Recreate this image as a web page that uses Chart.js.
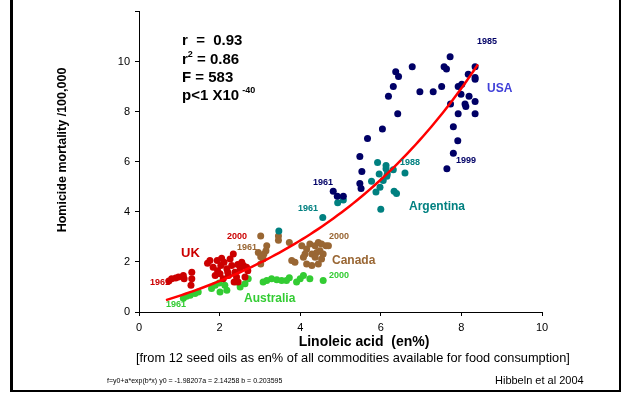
<!DOCTYPE html>
<html>
<head>
<meta charset="utf-8">
<script src="https://cdn.jsdelivr.net/npm/chart.js@4/dist/chart.umd.min.js"></script>
<style>
  html, body { margin: 0; padding: 0; background: #fff; }
  canvas { display: block; }
</style>
</head>
<body>
<canvas id="chart" width="624" height="393"></canvas>
<script>
// Tick values
const xTickValues = [0, 2, 4, 6, 8, 10];
const yTickValues = [0, 2, 4, 6, 8, 10, 12];

// Linoleic acid (en%) and homicide mortality per 100,000, by country-year
const usaLinoleic = [7.72, 6.78, 7.57, 7.63, 8.34, 6.37, 6.44, 8.17, 8.34, 8.34, 6.31, 7.51, 7.92, 8.01, 6.97, 7.30, 6.19, 7.99, 8.19, 7.73, 8.09, 8.11, 8.34, 6.42, 7.92, 8.34, 6.04, 7.80, 5.67, 7.91, 5.48, 7.80, 5.53, 5.48, 5.51, 4.82, 4.92, 5.07, 7.64];
const usaHomicide = [10.20, 9.80, 9.80, 9.71, 9.80, 9.60, 9.41, 9.50, 9.37, 9.30, 9.01, 9.01, 9.01, 9.10, 8.80, 8.80, 8.62, 8.70, 8.62, 8.31, 8.31, 8.21, 8.41, 7.92, 7.92, 7.92, 7.31, 7.40, 6.93, 6.84, 6.21, 6.34, 5.61, 5.13, 4.93, 4.82, 4.62, 4.62, 5.72];

const argentinaLinoleic = [5.92, 6.13, 6.13, 5.96, 6.16, 6.31, 6.60, 5.77, 6.06, 6.15, 5.98, 5.88, 6.33, 6.39, 4.93, 5.07, 6.00, 4.56, 3.47];
const argentinaHomicide = [5.97, 5.85, 5.72, 5.51, 5.51, 5.68, 5.55, 5.22, 5.25, 5.42, 4.98, 4.79, 4.82, 4.73, 4.36, 4.47, 4.10, 3.77, 3.24];

const ukLinoleic = [0.74, 0.81, 0.91, 0.98, 1.10, 1.12, 1.31, 1.31, 1.29, 1.76, 1.84, 1.94, 2.03, 2.11, 2.18, 2.26, 2.34, 2.30, 2.38, 2.42, 2.51, 2.59, 2.67, 1.89, 2.01, 2.09, 2.22, 2.36, 2.46, 2.63, 2.55, 1.70, 2.70, 2.20, 1.95, 2.45, 2.05];
const ukHomicide = [1.24, 1.33, 1.36, 1.40, 1.46, 1.33, 1.59, 1.33, 1.07, 2.06, 1.79, 2.06, 1.86, 1.99, 1.73, 2.12, 2.32, 1.86, 1.59, 1.40, 1.73, 1.86, 1.79, 1.46, 1.53, 1.33, 1.46, 1.20, 1.20, 1.40, 1.99, 1.95, 1.65, 1.60, 1.65, 1.90, 2.15];

const canadaLinoleic = [3.02, 3.46, 3.46, 3.73, 3.17, 3.15, 3.10, 2.96, 3.02, 3.08, 3.02, 4.04, 4.16, 4.24, 4.37, 4.45, 4.53, 4.64, 4.70, 4.12, 4.29, 4.41, 4.49, 4.57, 4.08, 4.37, 4.53, 3.79, 3.87, 4.16, 4.29, 4.45];
const canadaHomicide = [3.04, 3.04, 2.87, 2.78, 2.65, 2.45, 2.32, 2.38, 2.21, 2.12, 1.92, 2.65, 2.52, 2.72, 2.65, 2.78, 2.72, 2.65, 2.65, 2.32, 2.32, 2.38, 2.45, 2.32, 2.19, 2.19, 2.12, 2.06, 1.99, 1.92, 1.86, 1.92];

const australiaLinoleic = [1.10, 1.18, 1.27, 1.39, 1.47, 1.80, 1.89, 1.99, 2.13, 2.18, 2.01, 2.42, 2.51, 2.63, 2.71, 3.08, 3.17, 3.29, 3.42, 3.54, 3.66, 3.73, 3.91, 4.00, 4.08, 4.24, 4.57];
const australiaHomicide = [0.55, 0.63, 0.67, 0.74, 0.80, 0.94, 1.07, 1.16, 1.07, 0.87, 0.80, 1.20, 1.00, 1.13, 1.33, 1.20, 1.26, 1.33, 1.29, 1.26, 1.26, 1.37, 1.20, 1.33, 1.46, 1.33, 1.26];

// Exponential fit f = y0 + a*exp(b*x), parameters as printed under the plot
const fitY0 = -1.98207;
const fitA = 2.14258;
const fitB = 0.203595;
const fitXStart = 0.67;
const fitXEnd = 8.41;

const FONT = '"Liberation Sans", Arial, Helvetica, sans-serif';

function pairs(xs, ys) {
  return xs.map((x, i) => ({ x: x, y: ys[i] }));
}

function fitCurve() {
  const pts = [];
  const n = 80;
  for (let i = 0; i <= n; i++) {
    const x = fitXStart + (fitXEnd - fitXStart) * i / n;
    pts.push({ x: x, y: fitY0 + fitA * Math.exp(fitB * x) });
  }
  return pts;
}

const COLORS = {
  usa: '#000066',
  argentina: '#008080',
  uk: '#cc0000',
  canada: '#996633',
  australia: '#33cc33',
  fit: '#ff0000'
};

function scatterSet(label, xs, ys, color) {
  return {
    type: 'scatter',
    label: label,
    data: pairs(xs, ys),
    backgroundColor: color,
    borderColor: color,
    borderWidth: 0,
    pointRadius: 3.5,
    pointHoverRadius: 3.5,
    order: 1
  };
}

function text(ctx, s, x, y, size, color, bold, align) {
  ctx.font = (bold ? 'bold ' : '') + size + 'px ' + FONT;
  ctx.fillStyle = color;
  ctx.textAlign = align || 'left';
  ctx.textBaseline = 'middle';
  ctx.fillText(s, x, y);
  return ctx.measureText(s).width;
}

const annotations = {
  id: 'annotations',
  afterDraw(chart) {
    const ctx = chart.ctx;
    ctx.save();

    // frame around the figure
    ctx.fillStyle = '#000';
    ctx.fillRect(10, 0, 3, 392);
    ctx.fillRect(619, 0, 2, 392);
    ctx.fillRect(10, 390, 611, 2);

    // statistics block
    text(ctx, 'r  =  0.93', 182, 41, 15, '#000', true);
    let w = text(ctx, 'r', 182, 60, 15, '#000', true);
    let w2 = text(ctx, '2', 182 + w, 55, 9, '#000', true);
    text(ctx, ' = 0.86', 182 + w + w2, 60, 15, '#000', true);
    text(ctx, 'F = 583', 182, 78, 15, '#000', true);
    w = text(ctx, 'p<1 X10 ', 182, 96, 15, '#000', true);
    text(ctx, '-40', 182 + w - 1, 91, 9, '#000', true);

    // country names and year markers
    text(ctx, '1985', 477, 42, 9, COLORS.usa, true);
    text(ctx, 'USA', 487, 89, 12, '#4040d8', true);
    text(ctx, '1999', 456, 161, 9, COLORS.usa, true);
    text(ctx, '1961', 313, 183, 9, COLORS.usa, true);

    text(ctx, '1988', 400, 163, 9, COLORS.argentina, true);
    text(ctx, '1961', 298, 209, 9, COLORS.argentina, true);
    text(ctx, 'Argentina', 409, 207, 12, COLORS.argentina, true);

    text(ctx, '2000', 227, 237, 9, COLORS.uk, true);
    text(ctx, 'UK', 181, 253, 13, COLORS.uk, true);
    text(ctx, '1961', 150, 283, 9, COLORS.uk, true);

    text(ctx, '1961', 237, 248, 9, COLORS.canada, true);
    text(ctx, '2000', 329, 237, 9, COLORS.canada, true);
    text(ctx, 'Canada', 332, 261, 12, COLORS.canada, true);

    text(ctx, '2000', 329, 276, 9, COLORS.australia, true);
    text(ctx, 'Australia', 244, 299, 12, COLORS.australia, true);
    text(ctx, '1961', 166, 305, 9, COLORS.australia, true);

    // axis titles and notes
    ctx.save();
    ctx.translate(63, 150);
    ctx.rotate(-Math.PI / 2);
    text(ctx, 'Homicide mortality /100,000', 0, 0, 12.5, '#000', true, 'center');
    ctx.restore();

    text(ctx, 'Linoleic acid  (en%)', 364, 342, 14, '#000', true, 'center');
    text(ctx, '[from 12 seed oils as en% of all commodities available for food consumption]', 136, 358, 12.8, '#000', false);
    text(ctx, 'f=y0+a*exp(b*x) y0 = -1.98207a = 2.14258 b = 0.203595', 107, 381, 7, '#000', false);
    text(ctx, 'Hibbeln et al 2004', 495, 381, 11, '#000', false);

    ctx.restore();
  }
};

new Chart(document.getElementById('chart'), {
  data: {
    datasets: [
      {
        type: 'line',
        label: 'fit',
        data: fitCurve(),
        borderColor: COLORS.fit,
        borderWidth: 2.5,
        pointRadius: 0,
        fill: false,
        tension: 0,
        order: 0
      },
      scatterSet('USA', usaLinoleic, usaHomicide, COLORS.usa),
      scatterSet('Argentina', argentinaLinoleic, argentinaHomicide, COLORS.argentina),
      scatterSet('UK', ukLinoleic, ukHomicide, COLORS.uk),
      scatterSet('Canada', canadaLinoleic, canadaHomicide, COLORS.canada),
      scatterSet('Australia', australiaLinoleic, australiaHomicide, COLORS.australia)
    ]
  },
  options: {
    responsive: false,
    devicePixelRatio: 1,
    animation: false,
    layout: { padding: { top: 10, right: 82, left: 0, bottom: 0 } },
    plugins: {
      legend: { display: false },
      tooltip: { enabled: false }
    },
    scales: {
      x: {
        type: 'linear',
        min: 0,
        max: 10,
        afterBuildTicks: s => { s.ticks = xTickValues.map(v => ({ value: v })); },
        afterFit: s => { s.height = 81; },
        border: { display: true, color: '#000', width: 1 },
        grid: { display: true, drawOnChartArea: false, drawTicks: true, tickLength: 4, color: '#000' },
        ticks: { color: '#000', padding: 5, font: { family: FONT, size: 11 }, maxRotation: 0 }
      },
      y: {
        type: 'linear',
        min: 0,
        max: 12,
        afterBuildTicks: s => { s.ticks = yTickValues.map(v => ({ value: v })); },
        afterFit: s => { s.width = 139; },
        border: { display: true, color: '#000', width: 1 },
        grid: { display: true, drawOnChartArea: false, drawTicks: true, tickLength: 4, color: '#000' },
        ticks: {
          color: '#000',
          padding: 5,
          font: { family: FONT, size: 11 },
          callback: v => (v === 12 ? '' : v)
        }
      }
    }
  },
  plugins: [annotations]
});
</script>
</body>
</html>
